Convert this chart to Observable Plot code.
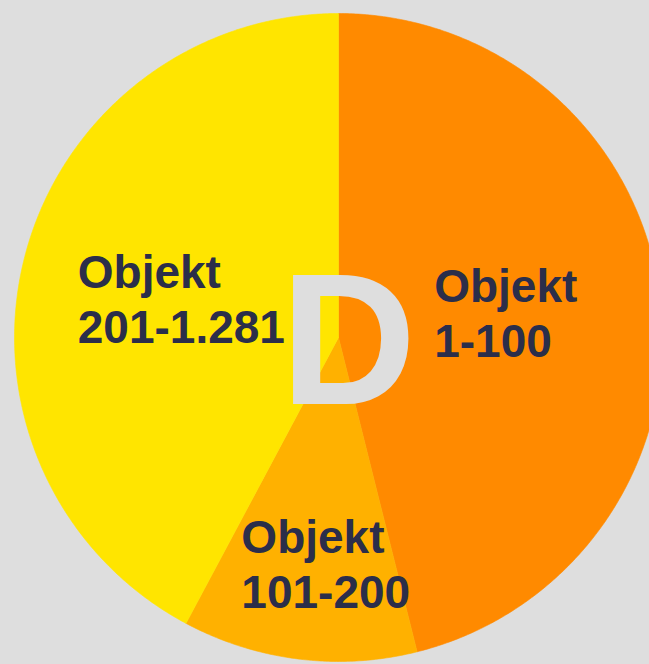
<!DOCTYPE html>
<html><head><meta charset="utf-8">
<script src="https://cdn.jsdelivr.net/npm/d3@7"></script>
<script src="https://cdn.jsdelivr.net/npm/@observablehq/plot@0.6"></script>
<style>
html,body{margin:0;padding:0;background:#dedede;}
#chart{width:649px;height:664px;overflow:hidden;}
</style>
</head><body><div id="chart"></div>
<script>
// ---- data ----
const categories = ["Objekt 1-100", "Objekt 101-200", "Objekt 201-1.281"];
const shares = [46.1, 11.7, 42.2];
const labelLines = ["Objekt\n1-100", "Objekt\n101-200", "Objekt\n201-1.281"];
const sliceColors = ["#ff8a00", "#ffb100", "#ffe500"];
const centerLetter = "D";

// ---- layout ----
const W = 649, H = 664;
const cx = 338, cy = 337, R = 324;
const xDomain = [-cx / R, (W - cx) / R];
const yDomain = [-(H - cy) / R, cy / R];

const arcs = d3.pie().sort(null).value(d => d)(shares);
const slicePts = [];
arcs.forEach((a, i) => {
  slicePts.push({cat: categories[i], x: 0, y: 0});
  const n = Math.max(2, Math.ceil((a.endAngle - a.startAngle) / (Math.PI / 360)));
  for (let k = 0; k <= n; k++) {
    const t = a.startAngle + (a.endAngle - a.startAngle) * k / n;
    slicePts.push({cat: categories[i], x: Math.sin(t), y: Math.cos(t)});
  }
  slicePts.push({cat: categories[i], x: 0, y: 0});
});

const fontFamily = '"Liberation Sans", Arial, Helvetica, sans-serif';
const labelSize = 46;
const labelRadius = [0.52, 0.70, 0.50];
const labelNudge = [[0, -5], [15, 0], [0, 0]];
const ctx = document.createElement("canvas").getContext("2d");
ctx.font = `bold ${labelSize}px ${fontFamily}`;

const labelMarks = arcs.map((a, i) => {
  const m = (a.startAngle + a.endAngle) / 2;
  const lines = labelLines[i].split("\n");
  const w = Math.max(...lines.map(s => ctx.measureText(s).width));
  return Plot.text([{x: Math.sin(m) * labelRadius[i], y: Math.cos(m) * labelRadius[i], t: labelLines[i]}], {
    x: "x", y: "y", text: "t",
    textAnchor: "start", lineAnchor: "middle",
    dx: -w / 2 + labelNudge[i][0], dy: labelNudge[i][1],
    fontSize: labelSize, fontWeight: "bold", fontFamily,
    fill: "#2b2e4a", lineHeight: 1.2
  });
});

const chart = Plot.plot({
  width: W, height: H, margin: 0,
  x: {domain: xDomain, axis: null},
  y: {domain: yDomain, axis: null},
  color: {domain: categories, range: sliceColors},
  style: {background: "#dedede", overflow: "hidden"},
  marks: [
    Plot.line(slicePts, {x: "x", y: "y", z: "cat", fill: "cat", stroke: "cat", strokeWidth: 0.6, curve: "linear"}),
    Plot.text([{x: 0, y: 0, t: centerLetter}], {
      x: "x", y: "y", text: "t", dx: 10, dy: 6,
      fontSize: 188, fontWeight: "bold", fontFamily,
      fill: "#dedede", lineAnchor: "middle"
    }),
    ...labelMarks
  ]
});
document.getElementById("chart").append(chart);
</script>
</body></html>
